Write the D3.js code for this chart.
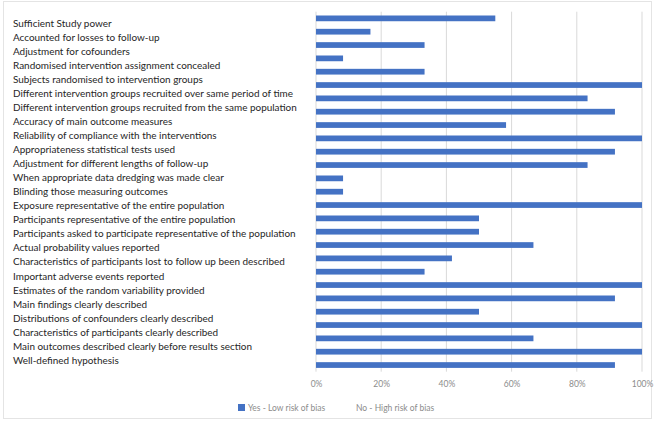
<!DOCTYPE html>
<html>
<head>
<meta charset="utf-8">
<script src="https://cdn.jsdelivr.net/npm/d3@7"></script>
<style>
  body { margin: 0; background: #fff; }
  svg { display: block; }
</style>
</head>
<body>
<svg id="chart" width="654" height="421"></svg>
<script>
// question labels (left column, top to bottom)
var labels = [
  'Sufficient Study power',
  'Accounted for losses to follow-up',
  'Adjustment for cofounders',
  'Randomised intervention assignment concealed',
  'Subjects randomised to intervention groups',
  'Different intervention groups recruited over same period of time',
  'Different intervention groups recruited from the same population',
  'Accuracy of main outcome measures',
  'Reliability of compliance with the interventions',
  'Appropriateness statistical tests used',
  'Adjustment for different lengths of follow-up',
  'When appropriate data dredging was made clear',
  'Blinding those measuring outcomes',
  'Exposure representative of the entire population',
  'Participants representative of the entire population',
  'Participants asked to participate representative of the population',
  'Actual probability values reported',
  'Characteristics of participants lost to follow up been described',
  'Important adverse events reported',
  'Estimates of the random variability provided',
  'Main findings clearly described',
  'Distributions of confounders clearly described',
  'Characteristics of participants clearly described',
  'Main outcomes described clearly before results section',
  'Well-defined hypothesis'
];

// "Yes - Low risk of bias" share per bar row, top to bottom (27 bars in the picture)
var yesValues = [
  0.55, 0.167, 0.333, 0.083, 0.333, 1.0, 0.833, 0.917, 0.583,
  1.0, 0.917, 0.833, 0.083, 0.083, 1.0, 0.5, 0.5, 0.667,
  0.417, 0.333, 1.0, 0.917, 0.5, 1.0, 0.667, 1.0, 0.917
];

var xTicks = [0, 0.2, 0.4, 0.6, 0.8, 1.0];
var legendItems = ['Yes - Low risk of bias', 'No - High risk of bias'];

var svg = d3.select('#chart');

// outer frame
svg.append('rect')
  .attr('x', 3.5).attr('y', 1.5)
  .attr('width', 648).attr('height', 417)
  .attr('fill', 'none')
  .attr('stroke', '#e4e4e4');

var x = d3.scaleLinear().domain([0, 1]).range([316, 642]);

var y = d3.scaleBand()
  .domain(d3.range(yesValues.length))
  .range([11.7, 371.7])
  .paddingInner(0.57)
  .paddingOuter(0.285);

var yLabel = d3.scalePoint()
  .domain(labels)
  .range([23.3, 360.3]);

// gridlines
svg.append('g')
  .selectAll('line')
  .data(xTicks)
  .join('line')
  .attr('x1', function(d){ return x(d) })
  .attr('x2', function(d){ return x(d) })
  .attr('y1', 11.7)
  .attr('y2', 371.7)
  .attr('stroke', '#d9d9d9')
  .attr('stroke-width', 1);

// bars
svg.append('g')
  .selectAll('rect')
  .data(yesValues)
  .join('rect')
  .attr('x', x(0))
  .attr('y', function(d, i){ return y(i) })
  .attr('width', function(d){ return x(d) - x(0) })
  .attr('height', y.bandwidth())
  .attr('fill', '#4472c4');

// left labels
svg.append('g')
  .selectAll('text')
  .data(labels)
  .join('text')
  .attr('x', 13)
  .attr('y', function(d){ return yLabel(d) })
  .attr('dy', '0.35em')
  .attr('font-family', 'Lato, "Open Sans", sans-serif')
  .attr('font-size', 9.95)
  .attr('fill', '#262626')
  .text(function(d){ return d });

// x axis (labels only, no domain line)
var xAxis = d3.axisBottom(x)
  .tickValues(xTicks)
  .tickSize(0)
  .tickPadding(0)
  .tickFormat(d3.format('.0%'));

var gx = svg.append('g')
  .attr('transform', 'translate(0,381)')
  .call(xAxis);
gx.select('.domain').remove();
gx.selectAll('text')
  .attr('font-family', 'Lato, "Open Sans", sans-serif')
  .attr('font-size', 8.5)
  .attr('fill', '#8c8c8c');

// legend
var legend = svg.append('g').attr('transform', 'translate(238,404)');
legend.append('rect')
  .attr('x', 0).attr('y', 0)
  .attr('width', 7).attr('height', 7)
  .attr('fill', '#4472c4');
legend.append('text')
  .attr('x', 10).attr('y', 7)
  .attr('font-family', 'Lato, "Open Sans", sans-serif')
  .attr('font-size', 8.5)
  .attr('fill', '#8c8c8c')
  .text(legendItems[0]);
legend.append('text')
  .attr('x', 118).attr('y', 7)
  .attr('font-family', 'Lato, "Open Sans", sans-serif')
  .attr('font-size', 8.5)
  .attr('fill', '#8c8c8c')
  .text(legendItems[1]);
</script>
</body>
</html>
